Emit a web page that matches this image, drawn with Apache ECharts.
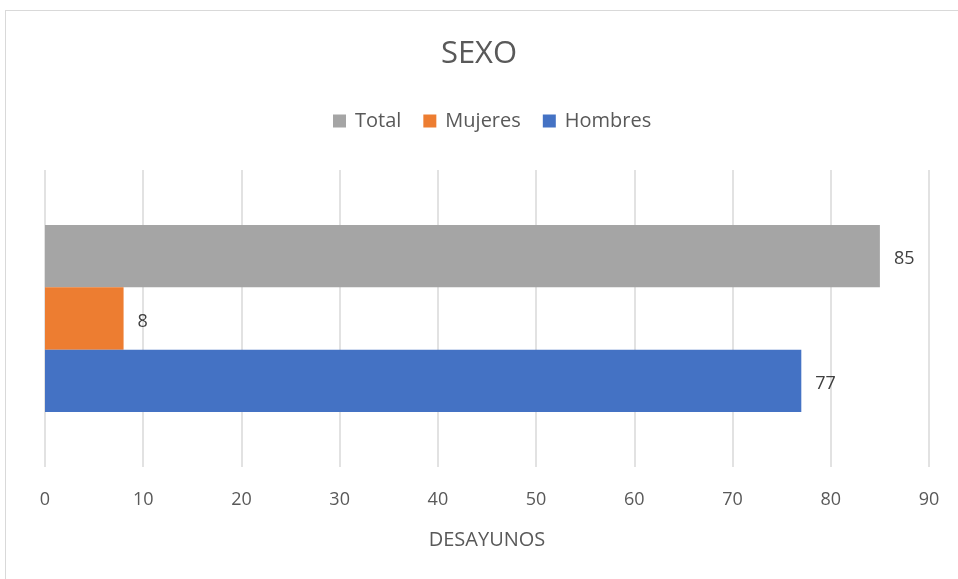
<!DOCTYPE html>
<html>
<head>
<meta charset="utf-8">
<script src="https://cdn.jsdelivr.net/npm/echarts@6/dist/echarts.min.js"></script>
<style>
  html, body { margin: 0; padding: 0; background: #fff; }
  #chart { width: 958px; height: 579px; }
  .frame { position: absolute; left: 5px; top: 10px; width: 955px; height: 580px; border: 1px solid #d9d9d9; box-sizing: border-box; pointer-events: none; }
</style>
</head>
<body>
<div id="chart"></div>
<div class="frame"></div>
<script>
const categories = ['SEXO']
const seriesNames = ['Total', 'Mujeres', 'Hombres']
const total = [85]
const mujeres = [8]
const hombres = [77]
const xTicks = [0, 10, 20, 30, 40, 50, 60, 70, 80, 90]

const font = 'Open Sans'
const textColor = '#595959'

const chart = echarts.init(document.getElementById('chart'))

const makeSeries = (name, data, color) => ({
  name: name,
  type: 'bar',
  data: data,
  barGap: '0%',
  barCategoryGap: '37%',
  itemStyle: { color: color },
  label: {
    show: true,
    position: 'right',
    distance: 14,
    color: '#404040',
    fontFamily: font,
    fontSize: 18,
    offset: [0, 3]
  }
})

chart.setOption({
  animation: false,
  title: {
    text: 'SEXO',
    left: 'center',
    top: 34,
    textStyle: { color: textColor, fontFamily: font, fontSize: 31, fontWeight: 'normal' }
  },
  legend: {
    data: seriesNames,
    top: 106,
    left: 328,
    icon: 'rect',
    itemWidth: 13,
    itemHeight: 13,
    itemGap: 22,
    textStyle: { color: textColor, fontFamily: font, fontSize: 20, padding: [0, 0, 0, 4] }
  },
  grid: { left: 45, right: 29, top: 170, bottom: 112 },
  xAxis: {
    type: 'value',
    min: xTicks[0],
    max: xTicks[xTicks.length - 1],
    interval: 10,
    name: 'DESAYUNOS',
    nameLocation: 'middle',
    nameGap: 63,
    nameTextStyle: { color: textColor, fontFamily: font, fontSize: 20 },
    axisLine: { show: false },
    axisTick: { show: false },
    axisLabel: { color: textColor, fontFamily: font, fontSize: 18, margin: 24 },
    splitLine: { lineStyle: { color: '#d9d9d9', width: 1.5 } }
  },
  yAxis: {
    type: 'category',
    data: categories,
    inverse: true,
    axisLine: { show: false },
    axisTick: { show: false },
    axisLabel: { show: false }
  },
  series: [
    makeSeries(seriesNames[0], total, '#a5a5a5'),
    makeSeries(seriesNames[1], mujeres, '#ed7d31'),
    makeSeries(seriesNames[2], hombres, '#4472c4')
  ]
})
</script>
</body>
</html>
